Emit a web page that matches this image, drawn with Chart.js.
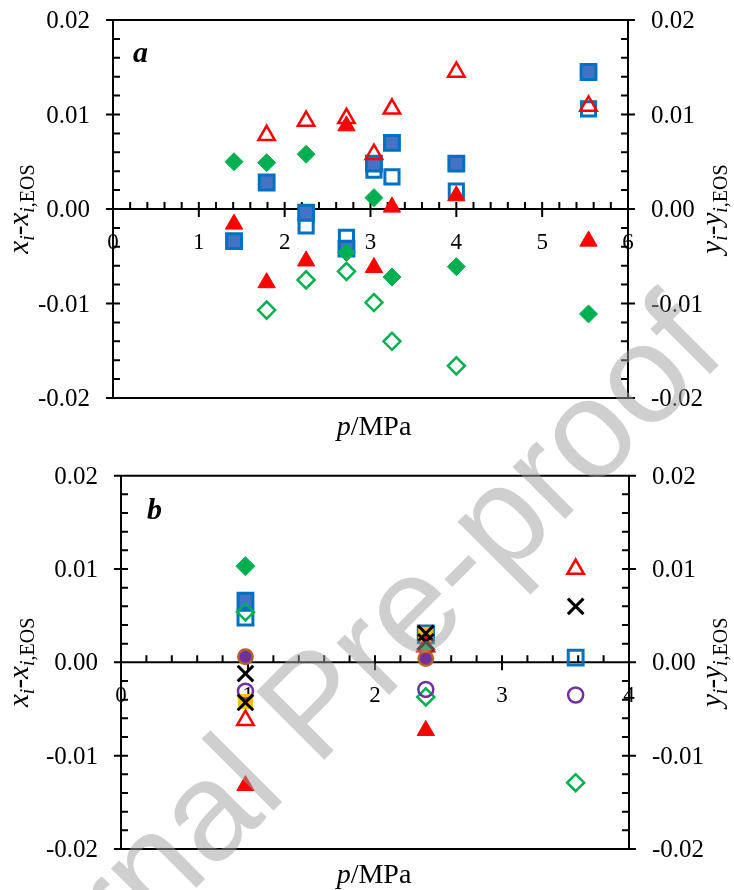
<!DOCTYPE html>
<html>
<head>
<meta charset="utf-8">
<script src="https://cdn.jsdelivr.net/npm/chart.js@4.4.1/dist/chart.umd.min.js"></script>
<style>
body { margin: 0; background: #fff; }
#wrap { position: relative; width: 734px; height: 890px; overflow: hidden; }
#wrap canvas { position: absolute; left: 0; }
#mark { pointer-events: none; }
</style>
</head>
<body>
<div id="wrap">
  <canvas id="chartA" width="734" height="450" style="top:0;width:734px;height:450px"></canvas>
  <canvas id="chartB" width="734" height="440" style="top:450px;width:734px;height:440px"></canvas>
  <canvas id="mark" width="734" height="890" style="top:0;width:734px;height:890px"></canvas>
</div>
<script>
// tick values and labels
const yTicks = [-0.02, -0.01, 0, 0.01, 0.02];
const yTickLabels = ['-0.02', '-0.01', '0.00', '0.01', '0.02'];
const xTicksA = [0, 1, 2, 3, 4, 5, 6];
const xTicksB = [0, 1, 2, 3, 4];

// panel a: pressures (MPa) and deviations
const pressuresA = [1.41, 1.79, 2.25, 2.72, 3.04, 3.25, 4.00, 5.54];
const solidSquareA = [-0.0034, 0.0028, -0.0004, -0.0042, 0.0048, 0.0070, 0.0048, 0.0145];
const openSquareA = [null, null, -0.0018, -0.0030, 0.0041, 0.0034, 0.0019, 0.0106];
const solidDiamondA = [0.0050, 0.0049, 0.0058, -0.0046, 0.0012, -0.0072, -0.0061, -0.0111];
const openDiamondA = [null, -0.0107, -0.0075, -0.0066, -0.0099, -0.0140, -0.0166, null];
const solidTriangleA = [-0.0016, -0.0078, -0.0055, 0.0088, -0.0062, 0.0002, 0.0014, -0.0034];
const openTriangleA = [null, 0.0078, 0.0093, 0.0096, 0.0058, 0.0106, 0.0145, 0.0109];

// panel b
const pressuresB = [0.98, 2.40, 3.58];
const solidSquareB = [0.0066, 0.0029, null];
const openSquareB = [0.0048, 0.0031, 0.0005];
const goldSquareB = [-0.0042, 0.0030, null];
const solidDiamondB = [0.0103, 0.0014, null];
const openDiamondB = [0.0054, -0.0037, -0.0129];
const openTriangleB = [-0.0062, 0.0017, 0.0100];
const solidTriangleB = [-0.0132, -0.0073, null];
const solidCircleB = [0.0006, 0.0004, null];
const openCircleB = [-0.0031, -0.0029, -0.0035];
const crossB = [-0.0012, 0.0022, 0.0060];
const cross2B = [-0.0043, 0.0031, null];

const SERIF = '"Liberation Serif", "Times New Roman", serif';
const BLUE = '#0070C0', BLUE_FILL = '#4472C4', GREEN = '#00B050', RED = '#FF0000';
const PURPLE = '#7030A0', BROWN = '#B4602A', GOLD = '#FFC000', NONE = 'rgba(0,0,0,0)';

function pts(xs, ys) {
  return xs.map((x, i) => ({ x: x, y: ys[i] })).filter(p => p.y !== null);
}

function marker(xs, ys, style, r, fill, stroke, bw) {
  return {
    data: pts(xs, ys),
    pointStyle: style,
    pointRadius: r,
    pointBackgroundColor: fill,
    pointBorderColor: stroke,
    pointBorderWidth: bw,
    showLine: false
  };
}

function drawRich(ctx, parts, size, subSize, subDrop) {
  const fontOf = p => (p.it ? 'italic ' : '') + (p.sub ? subSize : size) + 'px ' + SERIF;
  let w = 0;
  parts.forEach(p => { ctx.font = fontOf(p); w += ctx.measureText(p.t).width; });
  let x = -w / 2;
  parts.forEach(p => {
    ctx.font = fontOf(p);
    ctx.fillText(p.t, x, p.sub ? subDrop : 0);
    x += ctx.measureText(p.t).width;
  });
}

const leftTitle = [{ t: 'x', it: 1 }, { t: 'i', it: 1, sub: 1 }, { t: '-' }, { t: 'x', it: 1 }, { t: 'i', it: 1, sub: 1 }, { t: ',EOS', sub: 1 }];
const rightTitle = [{ t: 'y', it: 1 }, { t: 'i', it: 1, sub: 1 }, { t: '-' }, { t: 'y', it: 1 }, { t: 'i', it: 1, sub: 1 }, { t: ',EOS', sub: 1 }];
const xTitle = [{ t: 'p', it: 1 }, { t: '/MPa' }];

const axesPlugin = {
  id: 'panelAxes',
  beforeDatasetsDraw(chart, args, o) {
    const { ctx, chartArea: a, scales: { x, y } } = chart;
    const y0 = y.getPixelForValue(0);
    ctx.save();
    ctx.strokeStyle = '#000';
    ctx.lineWidth = 2;
    ctx.beginPath();
    ctx.moveTo(a.left, a.top); ctx.lineTo(a.right, a.top);
    ctx.moveTo(a.left, a.bottom); ctx.lineTo(a.right, a.bottom);
    ctx.moveTo(a.left, a.top - 1); ctx.lineTo(a.left, a.bottom + 1);
    ctx.moveTo(a.right, a.top - 1); ctx.lineTo(a.right, a.bottom + 1);
    ctx.moveTo(a.left, y0); ctx.lineTo(a.right, y0);
    yTicks.forEach(v => {
      const p = y.getPixelForValue(v);
      ctx.moveTo(a.left - 7, p); ctx.lineTo(a.left + 7, p);
      ctx.moveTo(a.right - 7, p); ctx.lineTo(a.right + 7, p);
    });
    for (let i = 1; i < 20; i++) {
      if (i % 5 === 0) continue;
      const p = y.getPixelForValue(y.min + i * 0.002);
      ctx.moveTo(a.left, p); ctx.lineTo(a.left + 7, p);
      ctx.moveTo(a.right - 7, p); ctx.lineTo(a.right, p);
    }
    o.xTicks.forEach(v => {
      const p = x.getPixelForValue(v);
      ctx.moveTo(p, y0 - 7); ctx.lineTo(p, y0 + 8);
    });
    const nMinor = Math.round((x.max - x.min) / 0.2);
    for (let i = 1; i < nMinor; i++) {
      if (i % 5 === 0) continue;
      const p = x.getPixelForValue(x.min + i * 0.2);
      ctx.moveTo(p, y0 - 7); ctx.lineTo(p, y0);
    }
    ctx.stroke();

    ctx.fillStyle = '#000';
    ctx.font = '25px ' + SERIF;
    yTicks.forEach((v, i) => {
      const p = y.getPixelForValue(v) + 8;
      ctx.textAlign = 'right';
      ctx.fillText(yTickLabels[i], a.left - 23, p);
      ctx.textAlign = 'left';
      ctx.fillText(yTickLabels[i], a.right + 23, p);
    });
    ctx.font = '23px ' + SERIF;
    ctx.textAlign = 'center';
    o.xTicks.forEach(v => ctx.fillText(String(v), x.getPixelForValue(v), y0 + 40));
    ctx.restore();
  },
  afterDraw(chart, args, o) {
    const { ctx, chartArea: a } = chart;
    const mid = (a.top + a.bottom) / 2;
    ctx.save();
    ctx.fillStyle = '#000';
    ctx.textAlign = 'left';
    ctx.font = 'bold italic 30px ' + SERIF;
    ctx.fillText(o.letter, o.letterX, o.letterY);

    ctx.save();
    ctx.translate(o.titleX, o.titleY);
    drawRich(ctx, xTitle, 28, 18, 0);
    ctx.restore();

    ctx.save();
    ctx.translate(28, mid);
    ctx.rotate(-Math.PI / 2);
    drawRich(ctx, leftTitle, 29, 20, 6);
    ctx.restore();

    ctx.save();
    ctx.translate(721, mid);
    ctx.rotate(-Math.PI / 2);
    drawRich(ctx, rightTitle, 29, 20, 6);
    ctx.restore();
    ctx.restore();
  }
};

function makeChart(id, xMax, sets, opts) {
  return new Chart(document.getElementById(id), {
    type: 'scatter',
    data: { datasets: sets.map((s, i) => Object.assign({ order: sets.length - i }, s)) },
    options: {
      responsive: false,
      animation: false,
      events: [],
      layout: { padding: opts.padding },
      scales: {
        x: { type: 'linear', min: 0, max: xMax, display: false },
        y: { min: -0.02, max: 0.02, display: false }
      },
      plugins: { legend: { display: false }, tooltip: { enabled: false }, panelAxes: opts }
    },
    plugins: [axesPlugin]
  });
}

// listed bottom layer first
makeChart('chartA', 6, [
  marker(pressuresA, openSquareA, 'rect', 10, NONE, BLUE, 3),
  marker(pressuresA, solidSquareA, 'rect', 10.5, BLUE_FILL, BLUE, 3),
  marker(pressuresA, solidDiamondA, 'rectRot', 9, GREEN, GREEN, 1),
  marker(pressuresA, openDiamondA, 'rectRot', 8.5, NONE, GREEN, 2.5),
  marker(pressuresA, openTriangleA, 'triangle', 9.5, NONE, RED, 2.5),
  marker(pressuresA, solidTriangleA, 'triangle', 10, RED, RED, 1)
], {
  padding: { left: 113, right: 106, top: 20, bottom: 52 },
  xTicks: xTicksA, letter: 'a', letterX: 133, letterY: 62, titleX: 374, titleY: 435
});

makeChart('chartB', 4, [
  marker(pressuresB, solidSquareB, 'rect', 10.5, BLUE_FILL, BLUE, 3),
  marker(pressuresB, openSquareB, 'rect', 10.5, NONE, BLUE, 3),
  marker(pressuresB, goldSquareB, 'rect', 10, GOLD, GOLD, 1),
  marker(pressuresB, solidDiamondB, 'rectRot', 9.5, GREEN, GREEN, 1),
  marker(pressuresB, openDiamondB, 'rectRot', 8.5, NONE, GREEN, 2.5),
  marker(pressuresB, openTriangleB, 'triangle', 9.5, NONE, RED, 2.5),
  marker(pressuresB, solidTriangleB, 'triangle', 10, RED, RED, 1),
  marker(pressuresB, solidCircleB, 'circle', 7.2, PURPLE, BROWN, 2.5),
  marker(pressuresB, openCircleB, 'circle', 7.5, NONE, PURPLE, 2.5),
  marker(pressuresB, crossB, 'crossRot', 11, NONE, '#000', 3),
  marker(pressuresB, cross2B, 'crossRot', 11, NONE, '#000', 3)
], {
  padding: { left: 121, right: 105, top: 25.7, bottom: 41 },
  xTicks: xTicksB, letter: 'b', letterX: 147, letterY: 69, titleX: 374, titleY: 433
});

// "Journal Pre-proof" watermark over the figure
const wm = document.getElementById('mark').getContext('2d');
wm.translate(-36, 1120);
wm.rotate(-Math.PI / 4);
wm.font = '140px "Liberation Sans", Arial, sans-serif';
wm.fillStyle = 'rgba(160,160,160,0.5)';
wm.fillText('Journal Pre-proof', 0, 0);
</script>
</body>
</html>
